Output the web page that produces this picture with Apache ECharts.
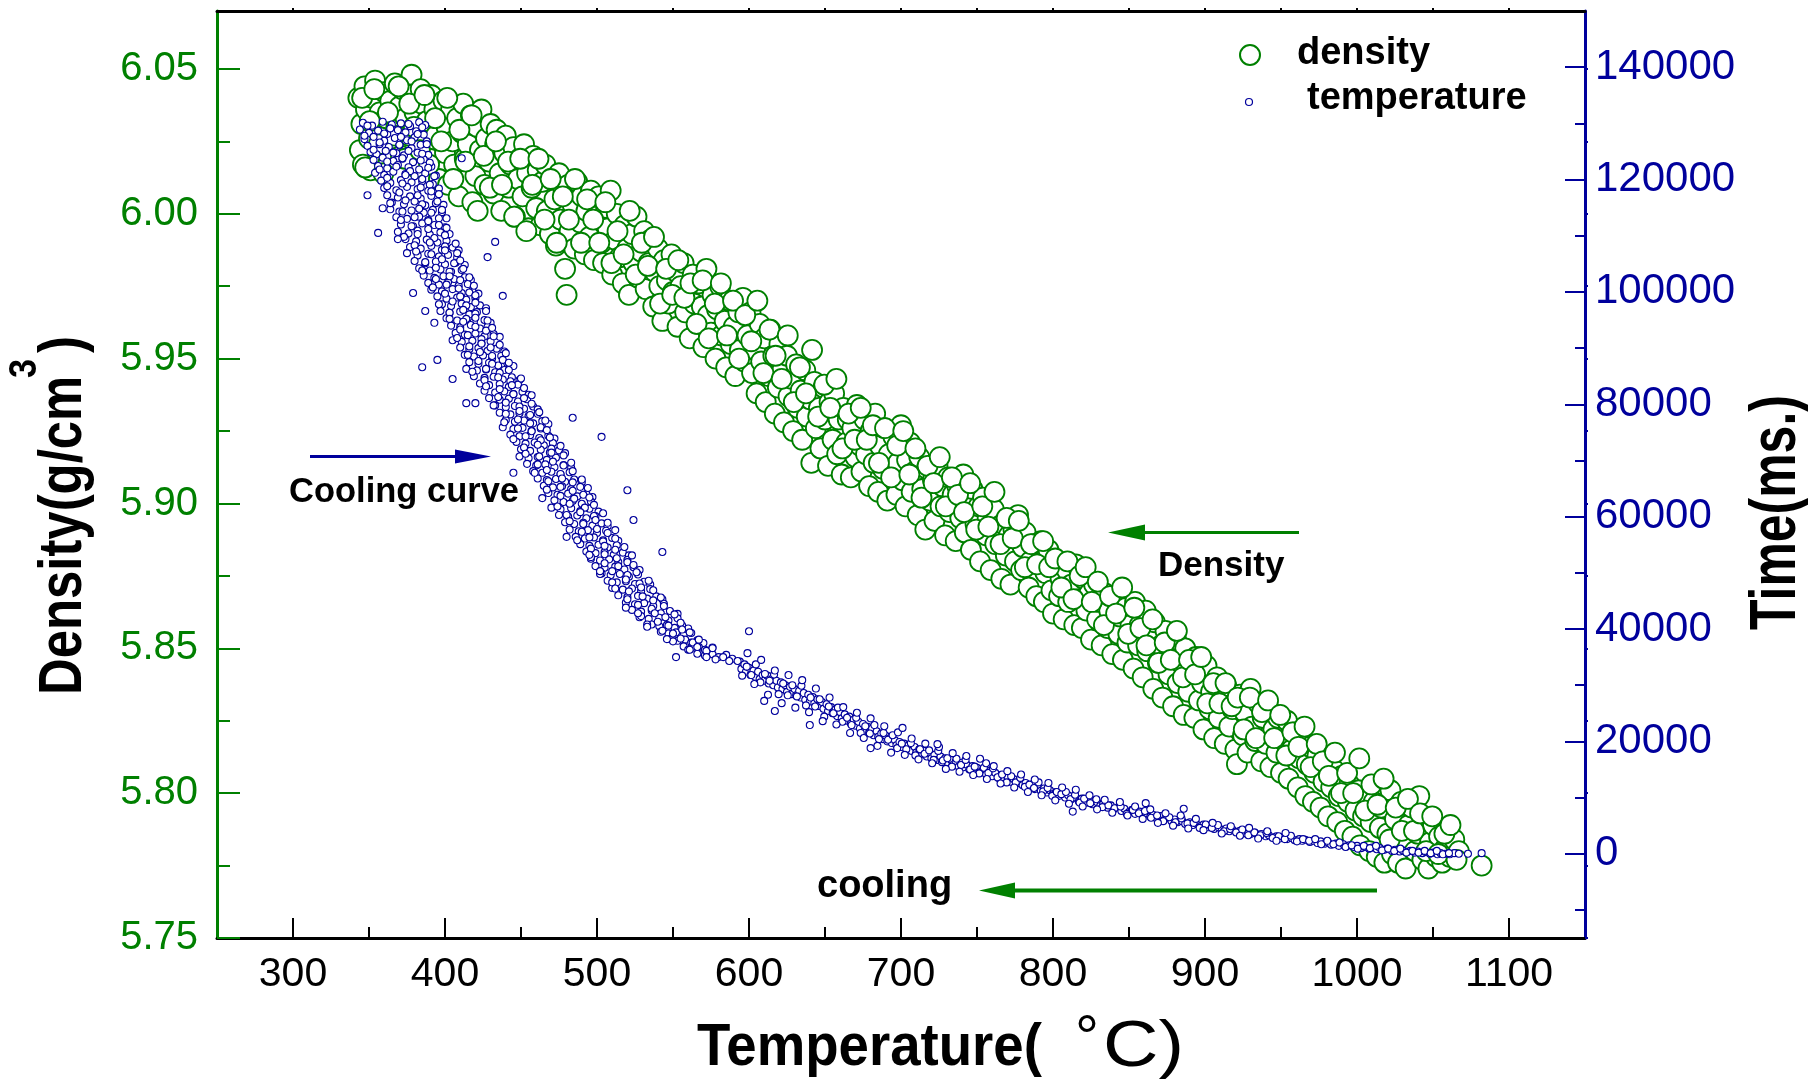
<!DOCTYPE html>
<html>
<head>
<meta charset="utf-8">
<title>Density and cooling curve</title>
<script src="https://cdn.jsdelivr.net/npm/echarts@6/dist/echarts.min.js"></script>
<style>
  html, body { margin: 0; padding: 0; background: #ffffff; }
  #chart { width: 1812px; height: 1081px; }
</style>
</head>
<body>
<div id="chart"></div>
<script>
// ---- axis ticks ----
const tempTicks = [300, 400, 500, 600, 700, 800, 900, 1000, 1100];
const tempMinorTicks = [350, 450, 550, 650, 750, 850, 950, 1050];
const tempTopTicks = [300, 350, 400, 450, 500, 550, 600, 650, 700, 750, 800, 850, 900, 950, 1000, 1050, 1100];
const densityTicks = [5.75, 5.80, 5.85, 5.90, 5.95, 6.00, 6.05];
const densityMinorTicks = [5.775, 5.825, 5.875, 5.925, 5.975, 6.025];
const timeTicks = [0, 20000, 40000, 60000, 80000, 100000, 120000, 140000];
const timeMinorTicks = [-10000, 10000, 30000, 50000, 70000, 90000, 110000, 130000];

// ---- density (g/cm3) against temperature (°C) ----
const densityPoints = [
  [343,6.040],[344,6.022],[345,6.031],[346,6.017],[347,6.044],[348,6.036],[350,6.026],[351,6.015],[352,6.040],[354,6.046],
  [355,6.029],[357,6.035],[358,6.021],[360,6.042],[361,6.033],[363,6.018],[364,6.039],[365,6.026],[367,6.045],[368,6.030],
  [370,6.037],[371,6.020],[372,6.043],[374,6.033],[376,6.027],[377,6.041],[378,6.048],[380,6.035],[381,6.016],[382,6.029],
  [384,6.043],[385,6.038],[387,6.024],[388,6.032],[390,6.019],[391,6.041],[393,6.036],[394,6.027],[396,6.012],[397,6.033],
  [399,6.039],[400,6.021],
  [401,6.030],[402,6.010],[404,6.036],[405,6.025],[406,6.017],[408,6.033],[409,6.006],[411,6.028],[412,6.038],[413,6.019],
  [415,6.024],[417,6.034],[418,6.004],[420,6.013],[421,6.030],[423,6.022],[424,6.036],[426,6.010],[427,6.026],[429,6.018],
  [430,6.031],
  [432,6.007],[433,6.024],[434,6.029],[436,6.014],[437,6.001],[439,6.021],[440,6.027],[442,6.009],[443,6.017],[445,6.023],
  [446,5.999],[448,6.012],[449,6.019],[451,6.006],[452,6.024],[454,6.014],[455,5.995],[457,6.009],[458,6.020],[460,6.002],
  [461,6.015],[463,5.996],[464,6.011],
  [466,6.017],[467,6.001],[469,5.993],[470,6.012],[472,6.005],[473,5.989],[475,6.014],[476,5.998],[478,6.008],[479,5.981],
  [480,5.972],[481,6.010],[482,5.994],[484,6.003],[485,5.988],[487,6.011],[489,5.997],[490,6.006],[492,5.986],[493,6.001],
  [495,5.992],[496,6.008],[498,5.984],[499,5.999],
  [501,6.006],[503,5.990],[504,5.983],[506,6.002],[507,5.995],[509,6.008],[510,5.979],[512,5.991],[513,6.000],[515,5.985],
  [517,5.976],[518,5.996],[520,5.988],[521,5.972],[523,5.993],[524,5.983],[526,5.999],[527,5.978],[529,5.987],
  [531,5.994],[532,5.974],[534,5.983],[535,5.991],[537,5.968],[538,5.980],[540,5.988],[541,5.975],[543,5.963],[544,5.984],
  [546,5.977],[547,5.969],[549,5.986],[550,5.973],[552,5.980],[553,5.961],[555,5.975],[557,5.983],[558,5.966],[560,5.972],
  [561,5.957],[563,5.979],[564,5.969],
  [566,5.962],[567,5.976],[569,5.968],[570,5.954],[572,5.981],[573,5.965],[575,5.959],[576,5.972],[578,5.950],[579,5.967],
  [581,5.975],[582,5.958],[584,5.963],[585,5.947],[587,5.970],[588,5.955],[590,5.961],[591,5.944],[593,5.966],[594,5.953],
  [596,5.971],[597,5.949],[599,5.958],
  [601,5.966],[602,5.945],[604,5.953],[605,5.938],[607,5.962],[608,5.949],[610,5.957],[611,5.935],[613,5.944],[614,5.960],
  [616,5.951],[617,5.931],[619,5.940],[620,5.955],[622,5.946],[623,5.928],[625,5.951],[626,5.937],[628,5.943],[629,5.925],
  [631,5.948],[632,5.933],[634,5.939],[635,5.922],[637,5.946],[638,5.930],[640,5.936],[641,5.914],
  [643,5.942],[644,5.926],[646,5.933],[647,5.919],[649,5.940],[650,5.929],[652,5.913],[653,5.935],[655,5.922],[656,5.938],
  [658,5.917],[659,5.929],[661,5.910],[662,5.933],[664,5.921],[665,5.929],[667,5.909],[668,5.926],[670,5.916],
  [671,5.934],[673,5.920],[674,5.911],[676,5.929],[677,5.917],[679,5.906],[680,5.925],[682,5.914],[683,5.931],[685,5.904],
  [686,5.920],[688,5.912],[689,5.926],[691,5.901],[692,5.917],[694,5.909],[695,5.923],[697,5.903],[698,5.914],[700,5.927],
  [701,5.908],[703,5.899],[704,5.915],[706,5.921],[707,5.904],[709,5.911],[711,5.896],[712,5.916],[714,5.905],[716,5.891],
  [717,5.912],[719,5.901],[721,5.908],[722,5.894],[724,5.913],[726,5.899],[727,5.906],[729,5.889],[731,5.909],[732,5.897],
  [734,5.903],[736,5.887],[737,5.906],[739,5.895],
  [741,5.910],[742,5.890],[744,5.899],[746,5.884],[747,5.905],[749,5.893],[751,5.899],[752,5.880],[754,5.902],[756,5.889],
  [757,5.895],[759,5.877],[761,5.898],[762,5.886],[764,5.892],[766,5.874],[767,5.893],[769,5.882],[771,5.889],[772,5.872],
  [774,5.891],[775,5.880],
  [777,5.896],[779,5.877],[780,5.885],[782,5.890],[784,5.871],[785,5.880],[787,5.886],[789,5.868],[790,5.879],[792,5.887],
  [794,5.866],[795,5.876],[797,5.884],[799,5.870],[800,5.862],[802,5.879],[804,5.868],[805,5.874],[807,5.860],[809,5.877],
  [810,5.866],[812,5.872],[814,5.858],
  [815,5.879],[817,5.867],[819,5.857],[820,5.874],[822,5.863],[824,5.869],[825,5.853],[827,5.872],[829,5.860],[830,5.866],
  [832,5.851],[834,5.869],[836,5.857],[837,5.863],[839,5.848],[841,5.867],[843,5.855],[844,5.861],[846,5.846],[848,5.864],
  [849,5.852],[851,5.858],[853,5.843],
  [854,5.866],[856,5.851],[857,5.858],[859,5.840],[861,5.863],[862,5.849],[864,5.855],[866,5.836],[867,5.859],[869,5.845],
  [871,5.851],[872,5.833],[874,5.856],[876,5.841],[877,5.848],[879,5.830],[881,5.853],[882,5.838],[884,5.845],[886,5.827],
  [887,5.850],[889,5.835],
  [891,5.842],[893,5.826],[894,5.847],[896,5.832],[898,5.838],[899,5.822],[901,5.844],[903,5.829],[904,5.835],[906,5.819],
  [908,5.840],[909,5.826],[911,5.832],[913,5.817],[914,5.837],[916,5.823],[918,5.829],[920,5.815],[921,5.810],
  [923,5.834],[925,5.820],[926,5.828],[928,5.814],[930,5.836],[931,5.823],[933,5.818],[935,5.831],[937,5.811],[938,5.826],
  [940,5.817],[942,5.829],[943,5.809],[945,5.822],[947,5.814],[948,5.826],[950,5.807],
  [952,5.818],[954,5.825],[955,5.805],[957,5.815],[959,5.821],[961,5.802],[962,5.812],[964,5.818],[966,5.799],[967,5.810],
  [969,5.816],[971,5.797],[972,5.807],[974,5.813],[976,5.795],[978,5.804],[979,5.811],[981,5.792],[983,5.802],[985,5.808],
  [987,5.790],[988,5.799],
  [990,5.806],[992,5.787],[994,5.797],[995,5.803],[997,5.785],[999,5.794],[1001,5.801],[1002,5.782],[1004,5.792],[1006,5.799],
  [1008,5.780],[1009,5.790],[1011,5.797],[1013,5.778],[1015,5.788],[1016,5.795],[1018,5.776],[1020,5.786],
  [1022,5.801],[1023,5.779],[1025,5.791],[1027,5.776],[1029,5.797],[1031,5.784],[1032,5.774],[1034,5.789],[1036,5.795],[1038,5.780],
  [1040,5.786],[1041,5.799],[1043,5.777],[1045,5.791],[1047,5.774],[1048,5.783],[1050,5.789],[1052,5.778],[1054,5.785],[1056,5.776],
  [1058,5.781],[1061,5.778],[1064,5.784],[1067,5.780],[1082,5.775],
  // second sweep of the same run
  [345.5,6.040],[347.5,6.016],[350.5,6.032],[353.5,6.043],[356.5,6.024],[359.5,6.014],[362.5,6.035],[366.5,6.027],[369.5,6.044],
  [373.5,6.019],[376.5,6.038],[379.5,6.030],[383.5,6.022],[386.5,6.041],[389.5,6.017],[393.5,6.033],[397.5,6.025],[401.5,6.040],
  [405.5,6.012],[409.5,6.029],[413.5,6.018],[417.5,6.034],[421.5,6.001],[425.5,6.020],[429.5,6.009],[433.5,6.025],[437.5,6.010],
  [441.5,6.018],[445.5,5.999],[449.5,6.019],[453.5,5.994],[457.5,6.010],[461.5,6.019],[465.5,5.998],[469.5,6.012],[473.5,5.990],
  [477.5,6.006],[481.5,5.998],[485.5,6.012],[489.5,5.990],[493.5,6.005],[497.5,5.998],[501.5,5.990],[505.5,6.004],[509.5,5.983],
  [513.5,5.994],[517.5,5.986],[521.5,6.001],[525.5,5.979],[529.5,5.990],[533.5,5.982],[537.5,5.992],[541.5,5.969],[545.5,5.981],
  [549.5,5.972],[553.5,5.984],[557.5,5.971],[561.5,5.976],[565.5,5.962],[569.5,5.977],[573.5,5.957],[577.5,5.969],[581.5,5.976],
  [585.5,5.958],[589.5,5.970],[593.5,5.950],[597.5,5.965],[601.5,5.956],[605.5,5.970],[609.5,5.945],[613.5,5.960],[617.5,5.951],
  [621.5,5.943],[625.5,5.958],[629.5,5.935],[633.5,5.947],[637.5,5.938],[641.5,5.953],[645.5,5.930],[649.5,5.941],[653.5,5.933],
  [657.5,5.943],[661.5,5.919],[665.5,5.931],[669.5,5.922],[673.5,5.933],[677.5,5.922],[681.5,5.927],[685.5,5.914],[689.5,5.926],
  [693.5,5.909],[697.5,5.920],[701.5,5.925],[705.5,5.910],[709.5,5.919],[713.5,5.902],[717.5,5.913],[721.5,5.907],[725.5,5.916],
  [729.5,5.899],[733.5,5.909],[737.5,5.903],[741.5,5.897],[745.5,5.907],[749.5,5.891],[753.5,5.899],[757.5,5.892],[761.5,5.904],
  [765.5,5.886],[769.5,5.895],[773.5,5.888],[777.5,5.894],[781.5,5.878],[785.5,5.886],[789.5,5.879],[793.5,5.887],[797.5,5.878],
  [801.5,5.881],[805.5,5.871],[809.5,5.880],[813.5,5.867],[817.5,5.875],[821.5,5.878],[825.5,5.866],[829.5,5.873],[833.5,5.858],
  [837.5,5.868],[841.5,5.862],[845.5,5.871],[849.5,5.855],[853.5,5.864],[857.5,5.857],[861.5,5.851],[865.5,5.860],[869.5,5.845],
  [873.5,5.852],[877.5,5.846],[881.5,5.856],[885.5,5.840],[889.5,5.846],[893.5,5.841],[897.5,5.847],[901.5,5.831],[905.5,5.838],
  [909.5,5.831],[913.5,5.838],[917.5,5.830],[921.5,5.833],[925.5,5.822],[929.5,5.833],[933.5,5.819],[937.5,5.828],[941.5,5.832],
  [945.5,5.819],[949.5,5.827],[953.5,5.813],[957.5,5.821],[961.5,5.816],[965.5,5.823],[969.5,5.809],[973.5,5.817],[977.5,5.811],
  [981.5,5.806],[985.5,5.814],[989.5,5.800],[993.5,5.807],[997.5,5.800],[1001.5,5.812],[1005.5,5.794],[1009.5,5.803],[1013.5,5.796],
  [1017.5,5.805],[1021.5,5.784],[1025.5,5.795],[1029.5,5.787],[1033.5,5.798],[1037.5,5.787],[1041.5,5.793],[1045.5,5.780],
  [1049.5,5.792],[1053.5,5.779],[1057.5,5.786],[1061.5,5.789],[1065.5,5.777]
];

// ---- cooling curve: elapsed time (ms) against temperature (°C) ----
const coolingPoints = [
  [346,130100],[352,129600],[359,130300],[365,129800],[371,130000],[377,129500],[383,130200],[387,129700],
  [344,128900],[350,128300],[356,128700],[362,128100],[369,128800],[374,128400],[381,128600],[386,128000],
  [347,127200],[353,127600],[360,126900],[367,127400],[375,127000],[380,127500],[388,126800],
  [349,126000],[357,126300],[363,125800],[370,126100],[378,125600],[384,126200],
  [351,124900],[355,124500],[361,125100],[368,124700],[373,124300],[382,124800],[389,124400],
  [353,123500],[359,123900],[366,123300],[372,123700],[379,123100],[386,123600],
  [356,122400],[362,122000],[369,122600],[376,122200],[383,121800],[391,122300],
  [354,121200],[360,120800],[366,121400],[374,121000],[380,120600],[387,121100],[394,120700],
  [358,119800],[364,119400],[371,119900],[378,119500],[385,119700],[392,119200],
  [360,118500],[368,118100],[375,118700],[382,118300],[389,118000],[396,118400],
  [362,117200],[369,116800],[377,117000],[384,116600],[391,117100],
  [365,115900],[373,115600],[380,116100],[387,115400],[394,115800],[399,115500],
  [364,114700],[370,114300],[378,114500],[386,114100],[392,114600],[398,114200],
  [368,113300],[375,113000],[383,113400],[389,112800],[396,113100],
  [371,112000],[379,111700],[385,112200],[393,111900],[400,111500],
  [369,110700],[376,110400],[382,110900],[390,110200],[397,110600],[403,110300],
  [374,109400],[381,109000],[388,109300],[395,108800],[401,109100],
  [377,108000],[384,107700],[391,108200],[398,107500],[405,107900],[409,107400],
  [375,106900],[382,106500],[389,106800],[396,106300],[402,106600],[408,106100],
  [380,105500],[387,105100],[394,105400],[400,104900],[407,105200],[413,104800],
  [383,104200],[390,103800],[397,104000],[404,103600],[411,103900],
  [386,102900],[393,102500],[399,102800],[406,102300],[413,102600],[417,102100],
  [389,101600],[396,101300],[402,101700],[409,101100],[415,101400],
  [391,100400],[398,100100],[405,100500],[411,99800],[418,100200],[422,99700],
  [395,99200],[401,98800],[408,99000],[414,98600],[420,98900],
  [398,97800],[404,97500],[411,97900],[417,97300],[423,97600],[427,97100],
  [397,96600],[403,96300],[410,96500],[416,96000],[421,96400],
  [401,95300],[408,94900],[414,95200],[419,94700],[426,95000],[430,94500],
  [404,94000],[410,93700],[417,94100],[423,93500],[428,93800],
  [407,92700],[413,92400],[420,92600],[426,92100],[432,92500],[436,92000],
  [405,91400],[411,91100],[418,91300],[424,90800],[430,91200],
  [410,90100],[416,89800],[422,90000],[428,89500],[434,89900],[439,89400],
  [413,88800],[419,88500],[425,88700],[431,88200],[437,88600],
  [416,87500],[422,87200],[429,87400],[435,86900],[441,87300],[445,86800],
  [414,86300],[421,86000],[427,86200],[433,85700],[439,86100],
  [419,85000],[426,84700],[432,84900],[438,84400],[444,84800],[449,84300],
  [423,83700],[429,83400],[436,83600],[442,83100],[448,83500],
  [426,82400],[433,82100],[439,82300],[445,81800],[451,82200],[455,81700],
  [429,81100],[436,80800],[442,81000],[448,80500],[454,80900],
  [433,79800],[440,79500],[446,79700],[452,79200],[458,79600],[461,79100],
  [436,78500],[443,78200],[449,78400],[455,77900],[461,78300],
  [440,77200],[446,76900],[452,77100],[458,76600],[464,77000],[468,76500],
  [438,75900],[445,75600],[451,75800],[457,75300],[463,75700],
  [443,74600],[449,74300],[456,74500],[462,74000],[468,74400],[472,73900],
  [447,73300],[453,73000],[459,73200],[465,72700],[471,73100],
  [450,72000],[456,71700],[463,71900],[469,71400],[475,71800],[479,71300],
  [449,70700],[455,70400],[461,70600],[467,70100],[473,70500],
  [454,69400],[460,69100],[466,69300],[472,68800],[478,69200],[483,68700],
  [458,68100],[464,67800],[470,68000],[476,67500],[482,67900],
  [461,66800],[467,66500],[473,66700],[479,66200],[485,66600],[490,66100],
  [465,65500],[471,65200],[477,65400],[483,64900],[489,65300],
  [468,64200],[474,63900],[481,64100],[487,63600],[493,64000],[497,63500],
  [472,62900],[478,62600],[484,62800],[490,62300],[496,62700],
  [470,61600],[476,61300],[483,61500],[489,61000],[495,61400],[501,60900],
  [475,60300],[481,60000],[487,60200],[493,59700],[499,60100],
  [479,59000],[485,58700],[491,58900],[497,58400],[503,58800],[507,58300],
  [482,57700],[488,57400],[494,57600],[500,57100],[506,57500],
  [486,56400],[492,56100],[498,56300],[504,55800],[510,56200],[514,55700],
  [489,55100],[495,54800],[501,55000],[507,54500],[513,54900],
  [493,53800],[499,53500],[505,53700],[511,53200],[517,53600],[521,53100],
  [496,52500],[502,52200],[508,52400],[514,51900],[520,52300],
  [499,51200],[505,50900],[512,51100],[518,50600],[524,51000],[528,50500],
  [503,49900],[509,49600],[515,49800],[521,49300],[527,49700],
  [507,48600],[513,48300],[519,48500],[525,48000],[531,48400],[535,47900],
  [510,47300],[517,47000],[523,47200],[529,46700],[535,47100],
  [514,46000],[520,45700],[527,45900],[533,45400],[539,45800],[543,45300],
  [519,44700],[525,44400],[531,44600],[537,44100],[544,44500],
  [523,43400],[529,43100],[536,43300],[542,42800],[548,43200],[553,42700],
  [528,42100],[534,41800],[541,42000],[547,41500],[553,41900],
  [536,40800],[541,40500],[546,40700],[551,40200],[556,40600],[560,40100],
  [542,39500],[547,39200],[552,39400],[557,38900],[562,39300],
  [548,38200],[553,37900],[558,38100],[562,37600],[566,38000],[570,37500],
  [557,36900],[562,36600],[567,36800],[571,36300],[576,36700],
  [566,35600],[571,35300],[576,35500],[580,35000],[585,35400],[589,34700],
  [594,34200],[595,32900],[597,33700],[598,32400],[600,33100],[601,31800],[603,32600],[604,31500],[606,32400],[607,31100],
  [609,31800],[610,30800],[612,31700],[613,30300],[615,31100],[616,30000],[618,30800],[619,29600],[621,30500],[622,29300],
  [624,30000],[625,28800],[627,29700],[628,28400],[630,29300],[631,28200],[633,29000],[634,27800],[636,28600],[637,27400],
  [639,28300],[640,27100],[642,27900],[643,26800],[645,27500],[646,26300],[648,27000],[649,25800],[651,26600],[652,25400],
  [654,26100],[655,25000],[657,25700],[658,24500],[660,25200],[661,24100],[663,24800],[664,23700],[666,24400],[667,23200],
  [669,23900],[670,22800],[672,23500],[673,22300],[675,23100],[676,21900],[678,22600],[679,21500],[681,22300],[682,21100],
  [684,21800],[685,20800],[687,21400],[688,20400],[690,21000],[691,20000],[693,20600],[694,19700],[696,20200],[697,19300],
  [699,19900],[700,19000],[702,19600],[704,18700],[705,19300],[707,18300],[709,19000],[710,18000],[712,18600],[714,17700],
  [715,18300],[717,17300],[719,17900],[720,17000],[722,17600],[724,16700],[726,17300],[727,16300],[729,17000],[731,16100],
  [733,16700],[734,15800],[736,16400],[738,15500],[740,16200],[741,15400],[743,15900],[745,15000],[747,15600],[748,14700],
  [750,15300],[752,14500],[754,15000],[756,14100],[758,14700],[760,13800],[762,14400],[764,13500],[766,14000],[768,13100],
  [770,13700],[772,12800],[774,13300],[776,12500],[778,13000],[780,12200],[782,12600],[784,11900],[786,12300],[788,11500],
  [790,11900],[792,11200],[794,11600],[796,10900],[798,11300],[800,10600],[802,11000],[804,10300],[806,10700],[808,10000],
  [810,10400],[812,9700],[815,10000],[817,9300],[819,9800],[822,9100],[824,9500],[826,8800],[829,9200],[831,8500],
  [833,8900],[836,8200],[838,8600],[840,7900],[843,8300],[845,7600],[847,8000],[850,7400],[852,7800],[854,7100],
  [857,7500],[859,6800],[861,7200],[864,6600],[866,6900],[868,6300],[871,6700],[873,6000],[875,6400],[878,5800],
  [880,6100],[882,5600],[885,5800],[887,5300],[890,5600],[892,5100],[894,5400],[897,4900],[899,5200],[902,4700],
  [904,4900],[906,4400],[909,4700],[911,4200],[914,4500],[916,4000],[918,4300],[921,3900],[923,4100],[925,3600],
  [928,3900],[930,3500],[933,3700],[935,3200],[937,3500],[940,3100],[942,3300],[945,2900],[947,3100],[949,2700],
  [952,3000],[954,2600],[957,2800],[959,2400],[962,2600],[964,2300],[966,2500],[969,2100],[971,2300],[974,1900],
  [976,2200],[979,1800],[981,2000],[983,1600],[986,1800],[988,1400],[991,1700],[993,1300],[995,1500],[998,1200],
  [1000,1400],[1003,1000],[1005,1200],[1008,900],[1010,1100],[1013,800],[1015,1000],[1018,700],[1020,900],[1023,500],
  [1025,700],[1028,400],[1030,600],[1033,300],[1035,500],[1038,200],[1040,400],[1043,100],[1045,300],[1048,0],
  [1050,200],[1053,-100],[1055,100],[1058,0],[1061,-100],[1064,100],[1067,0],[1073,0],[1082,100],
  // second sweep, upper branch
  [349,129600],[364,129100],[376,129900],[385,129300],[347,127800],[360,128200],[371,127600],[382,128100],
  [357,126600],[370,126200],[378,126800],[388,126300],[353,125300],[366,124800],[376,125100],[385,124600],
  [362,123200],[372,123800],[384,123400],[390,123000],[357,121800],[368,122300],[377,121500],[389,122100],
  [362,120300],[374,120800],[385,120100],[393,120600],[362,118800],[372,119300],[384,118600],[390,119100],
  [370,117700],[382,117200],[391,117900],[396,117400],[364,115800],[374,116300],[385,115600],[395,116100],
  [372,114300],[383,114800],[391,114100],[398,114600],[371,112800],[380,113300],[389,112600],[401,113100],
  [378,111700],[389,111200],[396,111900],[401,111400],[373,109800],[382,110300],[393,109600],[400,110100],
  [380,108300],[390,108800],[400,108100],[407,108600],[381,107200],[391,106700],[400,107400],[408,106900],
  [387,105300],[398,105800],[406,105100],[410,105600],[385,103800],[394,104300],[403,103600],[412,104100],
  [394,102300],[403,102800],[410,102100],[416,102600],[392,100800],[401,101300],[409,100600],[419,101100],
  [400,99700],[410,99200],[416,99900],[420,99400],[396,97800],[405,98300],[414,97600],[420,98100],
  [403,96300],[412,96800],[420,96100],[427,96600],[403,95200],[412,94700],[420,95400],[428,94900],
  [410,93300],[420,93800],[427,93100],[431,93600],[408,91800],[415,92300],[424,91600],[432,92100],
  [416,90300],[424,90800],[430,90100],[436,90600],[415,88800],[423,89300],[431,88600],[440,89100],
  [422,87700],[431,87200],[438,87900],[442,87400],[418,85800],[427,86300],[436,85600],[442,86100],
  [426,84300],[435,84800],[443,84100],[450,84600],[427,83200],[436,82700],[444,83400],[452,82900],
  [435,81300],[445,81800],[452,81100],[457,81600],[432,79800],[440,80300],[449,79600],[457,80100],
  [440,78300],[449,78800],[456,78100],[462,78600],[439,76800],[448,77300],[456,76600],[466,77100],
  [448,75700],[457,75200],[463,75900],[467,75400],[445,73800],[453,74300],[463,73600],[469,74100],
  [452,72300],[461,72800],[470,72100],[476,72600],[453,71200],[462,70700],[470,71400],[478,70900],
  [461,69300],[471,69800],[478,69100],[483,69600],[459,67800],[467,68300],[476,67600],[484,68100],
  [468,66300],[477,66800],[484,66100],[490,66600],[467,64800],[476,65300],[484,64600],[494,65100],
  [476,63700],[485,63200],[491,63900],[495,63400],[474,61800],[482,62300],[492,61600],[498,62100],
  [480,60300],[489,60800],[498,60100],[504,60600],[482,59200],[491,58700],[499,59400],[507,58900],
  [490,57300],[500,57800],[507,57100],[512,57600],[487,55800],[495,56300],[504,55600],[512,56100],
  [496,54300],[505,54800],[512,54100],[518,54600],[496,52800],[505,53300],[513,52600],[523,53100],
  [505,51700],[514,51200],[520,51900],[524,51400],[502,49800],[510,50300],[520,49600],[526,50100],
  [510,48300],[519,48800],[528,48100],[534,48600],[512,47200],[521,46700],[529,47400],[537,46900],
  [520,45300],[530,45800],[537,45100],[542,45600],[519,43800],[527,44300],[536,43600],[544,44100],
  [529,42300],[538,42800],[545,42100],[551,42600],[533,40800],[540,41300],[547,40600],[555,41100],
  [543,39700],[550,39200],[556,39900],[561,39400],[550,37800],[555,38300],[563,37600],[567,38100],
  [560,36300],[566,36800],[572,36100],[576,36600],[572,35000],[578,34600],[583,35000],[587,34300],
  // second sweep, lower branch
  [592.5,34300],[595.5,31700],[598.5,33300],[601.5,31800],[604.5,33700],[607.5,30500],[610.5,32000],[613.5,30800],
  [616.5,31900],[619.5,28400],[622.5,30300],[625.5,28200],[628.5,30000],[631.5,28000],[634.5,29900],[637.5,26400],
  [640.5,27800],[643.5,26200],[646.5,27500],[649.5,24400],[652.5,26200],[655.5,25000],[658.5,26000],[661.5,23500],
  [664.5,24200],[667.5,22900],[670.5,24200],[673.5,21500],[676.5,22700],[679.5,21400],[682.5,22900],[685.5,20400],
  [688.5,21500],[691.5,20300],[694.5,21100],[697.5,18800],[700.5,19600],[703.5,18600],[706.5,19700],[709.5,17500],
  [712.5,18600],[715.5,17800],[718.5,18400],[721.5,16700],[724.5,18300],[727.5,16600],[730.5,17000],[733.5,15500],
  [736.5,16900],[739.5,15800],[742.5,16700],[745.5,15000],[748.5,15500],[751.5,14300],[754.5,15300],[757.5,14400],
  [760.5,15200],[763.5,13600],[766.5,14100],[769.5,12700],[772.5,13800],[775.5,12700],[778.5,13500],[781.5,11900],
  [784.5,12300],[787.5,11700],[790.5,12700],[793.5,11100],[796.5,11700],[799.5,10300],[802.5,11000],[805.5,10600],
  [808.5,11000],[811.5,9700],[814.5,10500],[817.5,9100],[820.5,9800],[824.5,9000],[828.5,9700],[832.5,8300],
  [836.5,8600],[840.5,8100],[844.5,8400],[848.5,7100],[852.5,7800],[856.5,7200],[860.5,7600],[864.5,6400],
  [868.5,6800],[872.5,5800],[876.5,6500],[880.5,5600],[884.5,6300],[888.5,5400],[892.5,5500],[896.5,4600],
  [900.5,5200],[904.5,4600],[908.5,5100],[912.5,4000],[916.5,4400],[920.5,3800],[924.5,4300],[928.5,3300],
  [932.5,3800],[936.5,3300],[940.5,3700],[944.5,2800],[948.5,3100],[952.5,2600],[956.5,3200],[960.5,2200],
  [964.5,2600],[968.5,2300],[972.5,2600],[976.5,1700],[980.5,2300],[984.5,1700],[988.5,2000],[992.5,1200],
  [996.5,1500],[1000.5,900],[1004.5,1400],[1008.5,1000],[1012.5,1400],[1016.5,600],[1020.5,900],[1024.5,500],
  [1028.5,900],[1032.5,200],[1036.5,500],[1040.5,200],[1044.5,500],[1048.5,100],[1052.5,500],[1056.5,-100],[1060.5,100],
  // edge readings along the lower branch
  [599,35700],[603.5,30200],[608,34500],[612.5,28300],[617,32600],[621.5,26800],[626,31800],[630.5,26000],
  [635,30900],[639.5,25200],[644,29400],[648.5,23600],[653,27800],[657.5,23000],[662,26100],[666.5,21500],
  [671,25100],[675.5,20600],[680,24100],[684.5,19200],[689,22700],[693.5,18000],[698,21600],[702.5,17600],
  [707,20500],[711.5,16800],[716,19600],[720.5,16100],[725,19000],[729.5,15100],[734,17900],[738.5,14600],
  [743,17400],[747.5,14000],[752,16900],[756.5,13300],[761,15600],[765.5,12500],[770,14700],[774.5,11800],
  [779,14100],[783.5,11000],[788,13200],[792.5,10400],[797,12600],[801.5,9500],[806,11800],[810.5,8900],
  [815,11400],[819.5,8400],[824,10400],[829,7900],[834,9600],[839,7300],[844,9200],[849,6800],
  [854,8400],[859,6200],[864,7900],[869,5500],[874,7200],[879,5000],[884,6800],[889,4500],
  [894,6200],[899,4200],[905,5500],[911,3600],[917,4900],[923,3200],[929,4600],[935,2700],
  [941,4000],[947,2300],[953,3700],
  // stray readings
  [349,117200],[356,110500],[385,86600],[395,87900],[405,84500],[438,99300],[428,106200],[433,108900],[411,123800],
  [484,77600],[503,74200],[359,114900],[369,109400],[379,99800],[387,96600],[393,94500],[414,80200],[420,80200],
  [520,64700],[464,63300],[445,67800],[480,56400],[495,53200],[502,50300],[543,53700],[524,59400],[527,42800],
  [546,38200],[552,35000],[561,36300],[533,40400],[600,39600],[610,27200],[617,25400],[640,22900],[680,18800],
  [701,22400],[724,19500],[756,16100],[813,7500],[861,9000],[886,8000]
];

const GREEN = '#008000';
const BLUE = '#00009c';
const FONT = '"Liberation Sans", Arial, Helvetica, sans-serif';

const chart = echarts.init(document.getElementById('chart'), null, { renderer: 'canvas' });

function tickOnlyAxis(extra) {
  return Object.assign({
    type: 'value',
    axisLine: { show: false, onZero: false },
    axisLabel: { show: false },
    splitLine: { show: false }
  }, extra);
}

const plain = v => String(v);

const option = {
  animation: false,
  backgroundColor: '#ffffff',
  grid: { left: 217, right: 227, top: 11, bottom: 143 },
  xAxis: [
    {
      type: 'value', position: 'bottom', min: 250, max: 1150,
      axisLine: { onZero: false, lineStyle: { color: '#000', width: 3 } },
      axisTick: { inside: true, length: 20, lineStyle: { color: '#000', width: 2 }, customValues: tempTicks },
      axisLabel: { customValues: tempTicks, color: '#000', fontSize: 41, fontFamily: FONT, margin: 16, formatter: plain },
      splitLine: { show: false }
    },
    tickOnlyAxis({
      position: 'bottom', min: 250, max: 1150,
      axisTick: { inside: true, length: 11, lineStyle: { color: '#000', width: 2 }, customValues: tempMinorTicks }
    }),
    {
      type: 'value', position: 'top', min: 250, max: 1150,
      axisLine: { onZero: false, lineStyle: { color: '#000', width: 3 } },
      axisTick: { inside: false, length: 3, lineStyle: { color: '#000', width: 2 }, customValues: tempTopTicks },
      axisLabel: { show: false },
      splitLine: { show: false }
    }
  ],
  yAxis: [
    {
      type: 'value', position: 'left', min: 5.75, max: 6.07,
      axisLine: { onZero: false, lineStyle: { color: GREEN, width: 3 } },
      axisTick: { inside: true, length: 23, lineStyle: { color: GREEN, width: 2 }, customValues: densityTicks },
      axisLabel: {
        customValues: densityTicks, color: GREEN, fontSize: 40, fontFamily: FONT, margin: 19,
        formatter: v => Number(v).toFixed(2)
      },
      splitLine: { show: false }
    },
    {
      type: 'value', position: 'right', min: -15000, max: 150000,
      axisLine: { onZero: false, lineStyle: { color: BLUE, width: 3 } },
      axisTick: { inside: true, length: 20, lineStyle: { color: BLUE, width: 2 }, customValues: timeTicks },
      axisLabel: { customValues: timeTicks, color: BLUE, fontSize: 42, fontFamily: FONT, margin: 10, formatter: plain },
      splitLine: { show: false }
    },
    tickOnlyAxis({
      position: 'left', min: 5.75, max: 6.07,
      axisTick: { inside: true, length: 13, lineStyle: { color: GREEN, width: 2 }, customValues: densityMinorTicks }
    }),
    tickOnlyAxis({
      position: 'right', min: -15000, max: 150000,
      axisTick: { inside: true, length: 10, lineStyle: { color: BLUE, width: 2 }, customValues: timeMinorTicks }
    }),
    tickOnlyAxis({
      position: 'right', min: 5.75, max: 6.07,
      axisTick: { inside: false, length: 3, lineStyle: { color: BLUE, width: 2 },
                  customValues: densityTicks.concat(densityMinorTicks) }
    })
  ],
  series: [
    {
      name: 'density', type: 'scatter', xAxisIndex: 0, yAxisIndex: 0,
      data: densityPoints, symbol: 'circle', symbolSize: 20,
      itemStyle: { color: '#ffffff', borderColor: GREEN, borderWidth: 1.8, opacity: 1 },
      progressive: 0, large: false, silent: true
    },
    {
      name: 'temperature', type: 'scatter', xAxisIndex: 0, yAxisIndex: 1,
      data: coolingPoints, symbol: 'circle', symbolSize: 7,
      itemStyle: { color: '#ffffff', borderColor: BLUE, borderWidth: 1.1, opacity: 1 },
      progressive: 0, large: false, silent: true
    }
  ],
  graphic: [
    // axis titles
    { type: 'text', x: 697, y: 1048, scaleX: 0.91, z: 10,
      style: { text: 'Temperature(', font: 'bold 60px ' + FONT, fill: '#000', align: 'left', verticalAlign: 'middle' } },
    { type: 'text', x: 1075, y: 1040, z: 10,
      style: { text: '°', font: 'normal 60px ' + FONT, fill: '#000', align: 'left', verticalAlign: 'middle' } },
    { type: 'text', x: 1103, y: 1048, scaleX: 1.2, z: 10,
      style: { text: 'C)', font: 'normal 64px ' + FONT, fill: '#000', align: 'left', verticalAlign: 'middle' } },
    { type: 'text', x: 64, y: 695, rotation: Math.PI / 2, scaleX: 0.82, z: 10,
      style: { text: 'Density(g/cm', font: 'bold 62px ' + FONT, fill: '#000', align: 'left', verticalAlign: 'middle' } },
    { type: 'text', x: 26, y: 378, rotation: Math.PI / 2, scaleX: 0.9, z: 10,
      style: { text: '3', font: 'bold 38px ' + FONT, fill: '#000', align: 'left', verticalAlign: 'middle' } },
    { type: 'text', x: 64, y: 353, rotation: Math.PI / 2, scaleX: 0.82, z: 10,
      style: { text: ')', font: 'bold 62px ' + FONT, fill: '#000', align: 'left', verticalAlign: 'middle' } },
    { type: 'text', x: 1777, y: 630, rotation: Math.PI / 2, scaleX: 0.78, z: 10,
      style: { text: 'Time(ms.)', font: 'bold 64px ' + FONT, fill: '#000', align: 'left', verticalAlign: 'middle' } },

    // legend
    { type: 'circle', shape: { cx: 1250, cy: 55, r: 10 }, z: 10,
      style: { fill: '#fff', stroke: GREEN, lineWidth: 2 } },
    { type: 'text', x: 1297, y: 54, z: 10,
      style: { text: 'density', font: 'bold 38px ' + FONT, fill: '#000', align: 'left', verticalAlign: 'middle' } },
    { type: 'circle', shape: { cx: 1249, cy: 102, r: 3.5 }, z: 10,
      style: { fill: '#fff', stroke: BLUE, lineWidth: 1.2 } },
    { type: 'text', x: 1307, y: 99, z: 10,
      style: { text: 'temperature', font: 'bold 38px ' + FONT, fill: '#000', align: 'left', verticalAlign: 'middle' } },

    // "Cooling curve" pointer
    { type: 'line', shape: { x1: 310, y1: 456.5, x2: 462, y2: 456.5 }, z: 10,
      style: { stroke: BLUE, lineWidth: 3 } },
    { type: 'polygon', shape: { points: [[491, 456.5], [455, 449.5], [455, 463.5]] }, z: 10,
      style: { fill: BLUE } },
    { type: 'text', x: 289, y: 492, z: 10,
      style: { text: 'Cooling curve', font: 'bold 34.5px ' + FONT, fill: '#000', align: 'left', verticalAlign: 'middle' } },

    // "Density" pointer
    { type: 'line', shape: { x1: 1299, y1: 532.5, x2: 1135, y2: 532.5 }, z: 10,
      style: { stroke: GREEN, lineWidth: 3 } },
    { type: 'polygon', shape: { points: [[1108, 532.5], [1145, 524.5], [1145, 540.5]] }, z: 10,
      style: { fill: GREEN } },
    { type: 'text', x: 1158, y: 566, z: 10,
      style: { text: 'Density', font: 'bold 35px ' + FONT, fill: '#000', align: 'left', verticalAlign: 'middle' } },

    // "cooling" pointer
    { type: 'line', shape: { x1: 1377, y1: 890.5, x2: 1005, y2: 890.5 }, z: 10,
      style: { stroke: GREEN, lineWidth: 4 } },
    { type: 'polygon', shape: { points: [[979, 890.5], [1015, 882.5], [1015, 898.5]] }, z: 10,
      style: { fill: GREEN } },
    { type: 'text', x: 817, y: 887, z: 10,
      style: { text: 'cooling', font: 'bold 38px ' + FONT, fill: '#000', align: 'left', verticalAlign: 'middle' } }
  ]
};

chart.setOption(option);
</script>
</body>
</html>
